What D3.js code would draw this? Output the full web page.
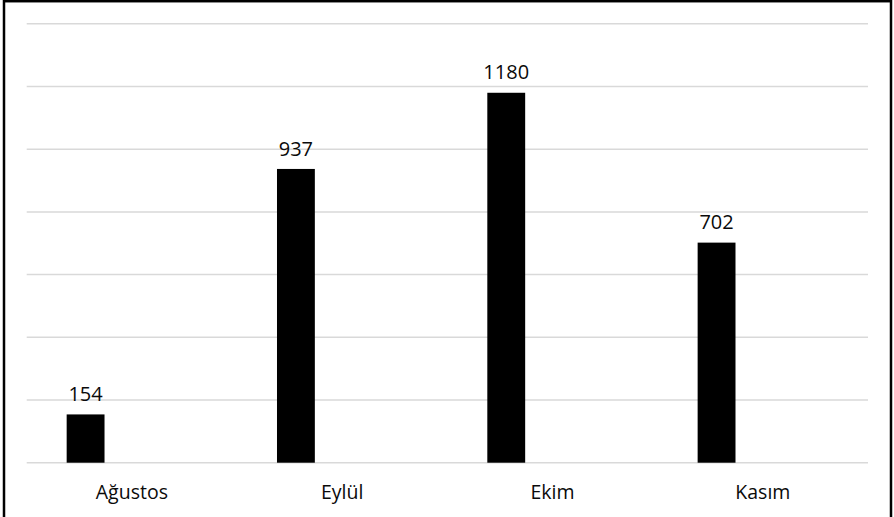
<!DOCTYPE html>
<html>
<head>
<meta charset="utf-8">
<script src="https://cdn.jsdelivr.net/npm/d3@7"></script>
<style>
  html, body { margin: 0; padding: 0; background: #fff; }
  svg { display: block; }
</style>
</head>
<body>
<svg id="chart" width="894" height="517"></svg>
<script>
// Monthly totals
const months = ["Ağustos", "Eylül", "Ekim", "Kasım"];
const values = [154, 937, 1180, 702];
const yTicks = [0, 200, 400, 600, 800, 1000, 1200, 1400];

const width = 894, height = 517;
const plot = { left: 26.7, right: 868, top: 23.8, bottom: 462.7 };
const font = "'Open Sans', 'Noto Sans', sans-serif";

const svg = d3.select("#chart");

const x = d3.scaleBand().domain(months).range([plot.left, plot.right]).padding(0);
const y = d3.scaleLinear().domain([0, 1400]).range([plot.bottom, plot.top]);

// Each month slot holds the bar in its left part (clustered layout)
const barOffset = x.bandwidth() * 0.19;
const barWidth = x.bandwidth() * 0.18;

// Horizontal gridlines
svg.append("g")
  .selectAll("line")
  .data(yTicks)
  .join("line")
  .attr("x1", plot.left)
  .attr("x2", plot.right)
  .attr("y1", d => y(d))
  .attr("y2", d => y(d))
  .attr("stroke", "#d9d9d9")
  .attr("stroke-width", 1.5);

// Bars
svg.append("g")
  .selectAll("rect")
  .data(values)
  .join("rect")
  .attr("x", (d, i) => x(months[i]) + barOffset)
  .attr("y", d => y(d))
  .attr("width", barWidth)
  .attr("height", d => y(0) - y(d))
  .attr("fill", "#000");

// Value labels above bars
svg.append("g")
  .selectAll("text")
  .data(values)
  .join("text")
  .attr("x", (d, i) => x(months[i]) + barOffset + barWidth / 2)
  .attr("y", d => y(d) - 13.4)
  .attr("text-anchor", "middle")
  .attr("font-family", font)
  .attr("font-size", 20)
  .attr("fill", "#0a0a0a")
  .text(d => d);

// Category axis labels
const xAxis = d3.axisBottom(x).tickSize(0).tickPadding(0);
const gx = svg.append("g")
  .attr("transform", `translate(0,${plot.bottom})`)
  .call(xAxis);
gx.select(".domain").remove();
gx.selectAll("text")
  .attr("dy", null)
  .attr("y", 36.5)
  .attr("font-family", font)
  .attr("font-size", 19.5)
  .attr("fill", "#0a0a0a");

// Outer frame (open at the bottom edge)
svg.append("rect")
  .attr("x", 4)
  .attr("y", 1.2)
  .attr("width", 887)
  .attr("height", 540)
  .attr("fill", "none")
  .attr("stroke", "#000")
  .attr("stroke-width", 2.5);
</script>
</body>
</html>
